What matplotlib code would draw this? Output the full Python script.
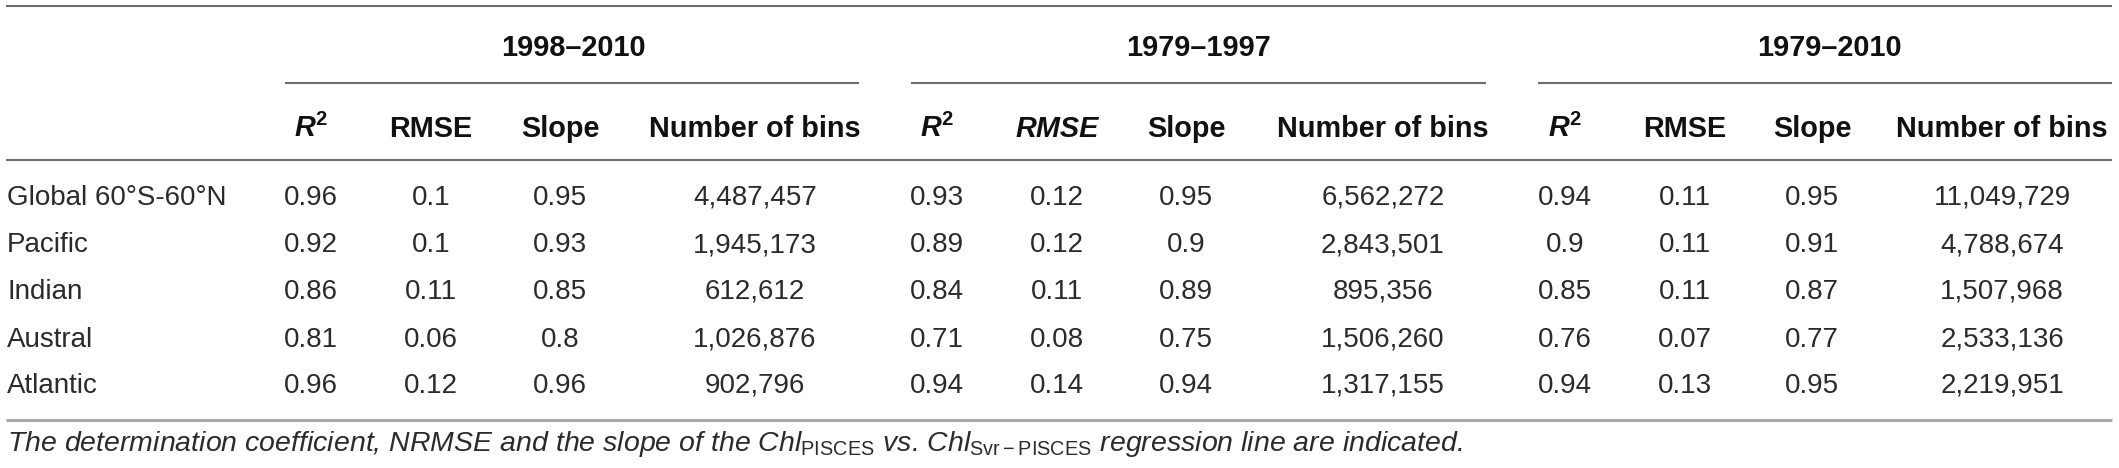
import matplotlib
matplotlib.use("Agg")
import matplotlib.pyplot as plt

# ---- data ----
regions = ["Global 60°S-60°N", "Pacific", "Indian", "Austral", "Atlantic"]
periods = ["1998–2010", "1979–1997", "1979–2010"]
col_labels = ["R2", "RMSE", "Slope", "Number of bins"]

r2_9810 = [0.96, 0.92, 0.86, 0.81, 0.96]
rmse_9810 = [0.1, 0.1, 0.11, 0.06, 0.12]
slope_9810 = [0.95, 0.93, 0.85, 0.8, 0.96]
bins_9810 = [4487457, 1945173, 612612, 1026876, 902796]

r2_7997 = [0.93, 0.89, 0.84, 0.71, 0.94]
rmse_7997 = [0.12, 0.12, 0.11, 0.08, 0.14]
slope_7997 = [0.95, 0.9, 0.89, 0.75, 0.94]
bins_7997 = [6562272, 2843501, 895356, 1506260, 1317155]

r2_7910 = [0.94, 0.9, 0.85, 0.76, 0.94]
rmse_7910 = [0.11, 0.11, 0.11, 0.07, 0.13]
slope_7910 = [0.95, 0.91, 0.87, 0.77, 0.95]
bins_7910 = [11049729, 4788674, 1507968, 2533136, 2219951]

caption = (r"The determination coefficient, NRMSE and the slope of the "
           r"$\mathit{Chl}_{\mathrm{PISCES}}$ vs. $\mathit{Chl}_{\mathrm{Svr-PISCES}}$ "
           r"regression line are indicated.")

groups = [
    (r2_9810, rmse_9810, slope_9810, bins_9810),
    (r2_7997, rmse_7997, slope_7997, bins_7997),
    (r2_7910, rmse_7910, slope_7910, bins_7910),
]

# ---- style ----
plt.rcParams["font.family"] = ["Liberation Sans", "DejaVu Sans"]
plt.rcParams["mathtext.fontset"] = "custom"
plt.rcParams["mathtext.rm"] = "Liberation Sans"
plt.rcParams["mathtext.it"] = "Liberation Sans:italic"
plt.rcParams["mathtext.bf"] = "Liberation Sans:bold"
plt.rcParams["mathtext.bfit"] = "Liberation Sans:italic:bold"

W, H = 2119, 468
fig = plt.figure(figsize=(W / 100, H / 100), dpi=100)
ax = fig.add_axes([0, 0, 1, 1])
ax.set_xlim(0, W)
ax.set_ylim(H, 0)
ax.axis("off")

FS = 20
FS_HEAD = 20.8
data_color = "#2b2b2b"
head_color = "#111111"
line_color = "#6e6e6e"

# layout (pixels)
x_left, x_right = 6, 2112
group_centers = [573, 1198, 1829]
group_spans = [(285, 859), (911, 1486), (1538, 2112)]
col_x = [[311, 431, 560, 755], [937, 1057, 1186, 1383], [1565, 1685, 1812, 2002]]
y_top, y_group, y_under, y_head, y_hline = 6, 56, 83, 137, 160
row_base = [205, 252, 299, 347, 393]
y_bottom, y_cap = 420, 451

ax.plot([x_left, x_right], [y_top, y_top], color=line_color, lw=1.5, solid_capstyle="butt")
ax.plot([x_left, x_right], [y_hline, y_hline], color=line_color, lw=1.5, solid_capstyle="butt")
ax.plot([x_left, x_right], [y_bottom, y_bottom], color="#a8a8a8", lw=2.2, solid_capstyle="butt")

for g, (period, (a, b), cx) in enumerate(zip(periods, group_spans, group_centers)):
    ax.text(cx, y_group, period, ha="center", va="baseline", fontsize=FS_HEAD,
            fontweight="bold", color=head_color)
    ax.plot([a, b], [y_under, y_under], color=line_color, lw=1.5, solid_capstyle="butt")
    for c, lab in enumerate(col_labels):
        if lab == "R2":
            txt = r"$\mathbfit{R}^{\mathbf{2}}$"
            style = "normal"
        elif lab == "RMSE" and g == 1:
            txt = lab
            style = "italic"
        else:
            txt = lab
            style = "normal"
        ax.text(col_x[g][c], y_head, txt, ha="center", va="baseline", fontsize=FS_HEAD,
                fontweight="bold", fontstyle=style, color=head_color)
    for r in range(len(regions)):
        vals = [f"{groups[g][0][r]:g}", f"{groups[g][1][r]:g}",
                f"{groups[g][2][r]:g}", f"{groups[g][3][r]:,}"]
        for c, v in enumerate(vals):
            ax.text(col_x[g][c], row_base[r], v, ha="center", va="baseline",
                    fontsize=FS, color=data_color)

for r, name in enumerate(regions):
    ax.text(7, row_base[r], name, ha="left", va="baseline", fontsize=FS, color=data_color)

ax.text(7, y_cap, caption, ha="left", va="baseline", fontsize=20.5,
        fontstyle="italic", color=data_color)

fig.savefig("out.png", dpi=100, facecolor="white")
